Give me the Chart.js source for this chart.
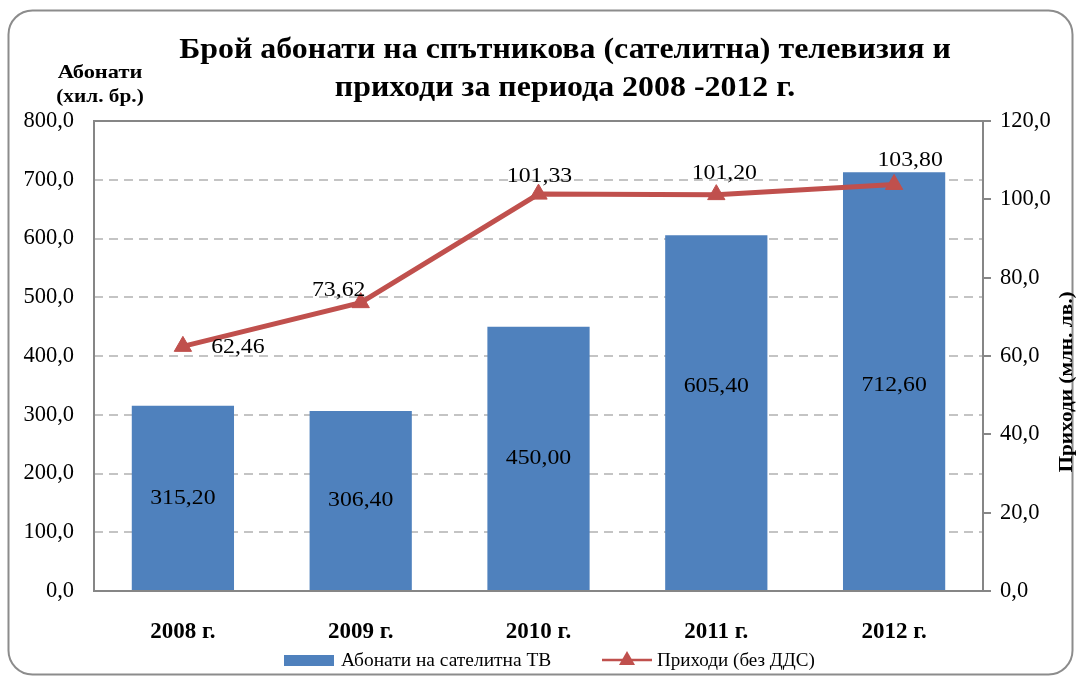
<!DOCTYPE html>
<html><head><meta charset="utf-8">
<script src="https://cdn.jsdelivr.net/npm/chart.js@4"></script>
<style>html,body{margin:0;padding:0;background:#fff}</style>
</head><body>
<canvas id="c" width="1078" height="677"></canvas>
<script>
const categories = ['2008 г.', '2009 г.', '2010 г.', '2011 г.', '2012 г.'];
const subscribers = [315.20, 306.40, 450.00, 605.40, 712.60];
const revenue = [62.46, 73.62, 101.33, 101.20, 103.80];
const seriesNames = ['Абонати на сателитна ТВ', 'Приходи (без ДДС)'];
const titleLines = ['Брой абонати на спътникова (сателитна) телевизия и', 'приходи за периода 2008 -2012 г.'];
const leftAxisTitle = ['Абонати', '(хил. бр.)'];
const rightAxisTitle = 'Приходи (млн. лв.)';

const FONT = "'Liberation Serif', 'Times New Roman', serif";
const BLUE = '#4F81BD', RED = '#C0504D', FRAME = '#868686';
const fmt = (v, d) => v.toFixed(d).replace('.', ',');

// label offsets (px) relative to default anchor
const barLabelDy = [0, 0, 0, -26, 4];
const lineLabelOff = [[55, 1], [-22, -12], [1, -18], [8, -21], [16, -24]];

function txt(ctx, s, x, y, sx, align) {
  ctx.save();
  ctx.translate(x, y);
  ctx.scale(sx, 1);
  ctx.textAlign = align || 'center';
  ctx.fillText(s, 0, 0);
  ctx.restore();
}

const decor = {
  id: 'decor',
  beforeDraw(chart) {
    const ctx = chart.ctx;
    ctx.save();
    ctx.fillStyle = '#fff';
    ctx.fillRect(0, 0, chart.width, chart.height);
    ctx.strokeStyle = '#8C8C8C';
    ctx.lineWidth = 2;
    ctx.beginPath();
    ctx.roundRect(8.5, 10.5, 1064, 664, 24);
    ctx.stroke();
    ctx.restore();
  },
  beforeDatasetsDraw(chart) {
    const ctx = chart.ctx, a = chart.chartArea;
    ctx.save();
    ctx.strokeStyle = FRAME;
    ctx.lineWidth = 2;
    ctx.strokeRect(a.left, a.top, a.right - a.left, a.bottom - a.top);
    ctx.restore();
  },
  afterDatasetsDraw(chart) {
    const ctx = chart.ctx;
    ctx.save();
    ctx.fillStyle = '#000';
    ctx.textBaseline = 'middle';
    // bar labels
    ctx.font = '22px ' + FONT;
    chart.getDatasetMeta(0).data.forEach((bar, i) => {
      const y = (bar.y + bar.base) / 2 + barLabelDy[i];
      txt(ctx, fmt(subscribers[i], 2), bar.x, y, 1.08);
    });
    // line labels
    chart.getDatasetMeta(1).data.forEach((pt, i) => {
      txt(ctx, fmt(revenue[i], 2), pt.x + lineLabelOff[i][0], pt.y + lineLabelOff[i][1], 1.08);
    });
    // title
    ctx.font = 'bold 29px ' + FONT;
    txt(ctx, titleLines[0], 565, 51, 1.1);
    txt(ctx, titleLines[1], 565, 89, 1.1);
    // left axis title
    ctx.font = 'bold 19px ' + FONT;
    txt(ctx, leftAxisTitle[0], 100, 73, 1.18);
    txt(ctx, leftAxisTitle[1], 100, 97, 1.12);
    // right axis title
    ctx.save();
    ctx.translate(1067, 382);
    ctx.rotate(-Math.PI / 2);
    ctx.scale(1.12, 1);
    ctx.textAlign = 'center';
    ctx.fillText(rightAxisTitle, 0, 0);
    ctx.restore();
    // legend
    ctx.font = '18px ' + FONT;
    ctx.fillStyle = BLUE;
    ctx.fillRect(284, 655, 50, 11);
    ctx.fillStyle = '#000';
    txt(ctx, seriesNames[0], 341, 661, 1.08, 'left');
    ctx.strokeStyle = RED;
    ctx.lineWidth = 2.5;
    ctx.beginPath(); ctx.moveTo(602, 660); ctx.lineTo(652, 660); ctx.stroke();
    ctx.fillStyle = RED;
    ctx.beginPath(); ctx.moveTo(627, 651); ctx.lineTo(635, 665); ctx.lineTo(619, 665); ctx.closePath(); ctx.fill();
    ctx.fillStyle = '#000';
    txt(ctx, seriesNames[1], 657, 661, 1.06, 'left');
    ctx.restore();
  }
};

new Chart(document.getElementById('c'), {
  data: {
    labels: categories,
    datasets: [
      { type: 'bar', label: seriesNames[0], data: subscribers, backgroundColor: BLUE, yAxisID: 'y',
        barPercentage: 0.575, categoryPercentage: 1, order: 2 },
      { type: 'line', label: seriesNames[1], data: revenue, borderColor: RED, backgroundColor: RED,
        borderWidth: 5, pointStyle: 'triangle', pointRadius: 10, pointBackgroundColor: RED,
        pointBorderColor: RED, pointBorderWidth: 1, yAxisID: 'y1', order: 1, tension: 0 }
    ]
  },
  options: {
    responsive: false, animation: false, devicePixelRatio: 1,
    layout: { padding: { top: 121, left: 0, right: 0, bottom: 0 } },
    plugins: { legend: { display: false }, title: { display: false }, tooltip: { enabled: false } },
    scales: {
      x: {
        grid: { display: false }, border: { display: false },
        ticks: { color: '#000', font: { family: FONT, size: 23, weight: 'bold' }, padding: 19 },
        afterFit(s) { s.height = 86; }
      },
      y: {
        position: 'left', min: 0, max: 800,
        ticks: { stepSize: 100, color: '#000', font: { family: FONT, size: 22.5 }, padding: 20,
          callback: v => fmt(v, 1) },
        grid: { drawTicks: false, lineWidth: 2,
          color: c => (c.tick && (c.tick.value === 0 || c.tick.value === 800)) ? 'rgba(0,0,0,0)' : '#C4C4C4' },
        border: { display: false, dash: [9, 6] },
        afterFit(s) { s.width = 94; }
      },
      y1: {
        position: 'right', min: 0, max: 120,
        ticks: { stepSize: 20, color: '#000', font: { family: FONT, size: 22.5 }, padding: 9,
          callback: v => fmt(v, 1) },
        grid: { drawOnChartArea: false, drawTicks: true, tickLength: 8, color: FRAME, lineWidth: 2 },
        border: { display: false },
        afterFit(s) { s.width = 95; }
      }
    }
  },
  plugins: [decor]
});
</script>
</body></html>
